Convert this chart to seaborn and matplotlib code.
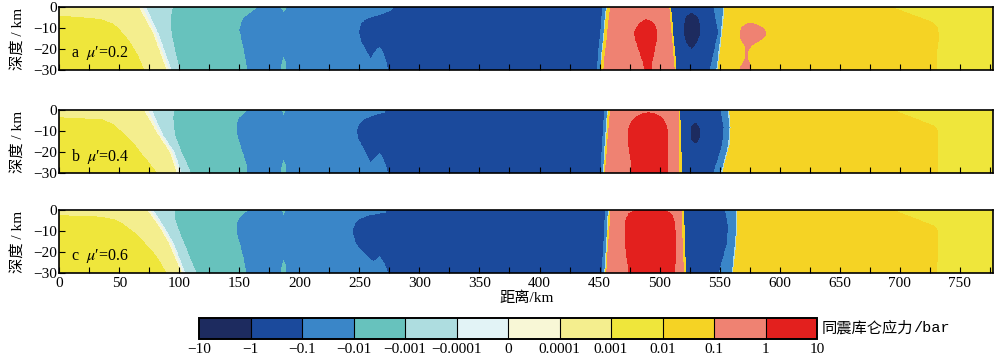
import numpy as np
import matplotlib
matplotlib.use("Agg")
import matplotlib.pyplot as plt
from matplotlib.colors import ListedColormap, BoundaryNorm
from matplotlib.cm import ScalarMappable
from matplotlib.ticker import MultipleLocator
import seaborn as sns

# colour bins of the coulomb stress scale (bar), low to high
BIN_EDGES = ["-10", "-1", "-0.1", "-0.01", "-0.001", "-0.0001", "0",
             "0.0001", "0.001", "0.01", "0.1", "1", "10"]
BIN_COLORS = ["#1d2b5f", "#1b4a9c", "#3a86c8", "#67c2bd", "#aedde0", "#e2f3f6",
              "#f8f7d6", "#f4ee8e", "#efe63b", "#f5d324", "#ef8272", "#e3201e"]

PANEL_LABELS = ["a  $\\mu$\u2032=0.2", "b  $\\mu$\u2032=0.4", "c  $\\mu$\u2032=0.6"]
X_MAX = 778

# each panel: bin index of every region from left to right, and the
# edges between them as (depth km, distance km) points
LEVELS_A = [8, 7, 6, 5, 4, 3, 2, 3, 2, 1, 2, 1, 2, 4, 9, 10, 11, 10, 9, 1, 0, 1, 2, 4, 9, 10, 9, 8]
EDGES_A = [
    [(0, -10), (4, -10), (6, 34), (8, 44), (10, 49), (12, 52), (16, 58), (20, 62.5), (24, 66.5), (28, 69.5), (30, 71)],
    [(0, 66), (12.5, 78), (30, 89.5)],
    [(0, 69), (12.5, 80), (30, 91.5)],
    [(0, 72), (12.5, 82.5), (30, 93.6)],
    [(0, 95), (5.6, 92.8), (12.5, 93.6), (20.5, 96.5), (30, 100.6)],
    [(0, 166), (2, 162), (4, 157), (6, 153), (11, 150), (17, 152.5), (24, 155), (30, 156.7)],
    [(0, 183), (2, 186), (3, 187), (24, 187), (26, 185.5), (28, 185), (30, 184.5)],
    [(0, 191), (2, 188), (3, 187), (24, 187), (26, 188.5), (28, 189), (30, 189.5)],
    [(0, 279), (2, 277), (4, 268), (6, 256), (8, 252), (10, 250.5), (12, 250), (14, 250.5), (16, 251.5),
     (18, 253), (20, 255), (22, 257), (24, 259), (26, 262), (28, 263), (30, 264)],
    [(0, 267), (19, 267), (20.5, 264), (22.5, 261.5), (25, 259), (26, 258), (30, 258)],
    [(0, 267), (19, 267), (20.5, 269), (22.5, 270.5), (25, 272), (27, 273), (30, 274)],
    [(0, 452.8), (30, 447.8)],
    [(0, 455.6), (30, 450.6)],
    [(0, 456.3), (30, 451.2)],
    [(0, 459), (30, 453.3)],
    [(0, 489), (6, 489), (7, 486), (8, 483.5), (10, 481), (12.5, 479), (16, 480), (20, 482.5), (26, 486), (30, 488)],
    [(0, 489), (6, 489), (7, 493), (8, 495.5), (10, 497.5), (12.5, 498.5), (16, 498), (20, 496.5), (26, 494.5), (30, 494)],
    [(0, 508.3), (30, 513)],
    [(0, 509.8), (30, 514.5)],
    [(0, 527), (3, 527), (4.5, 523), (6, 521.5), (10, 520.5), (14, 521), (17, 522.5), (19, 525), (20, 527), (30, 527)],
    [(0, 527), (3, 527), (4.5, 531), (6, 533), (10, 534), (14, 533.5), (17, 531.5), (19, 529), (20, 527), (30, 527)],
    [(0, 545), (12.5, 549), (30, 542)],
    [(0, 553.5), (12.5, 551.5), (30, 547.5)],
    [(0, 554.5), (12.5, 552.5), (30, 548.5)],
    [(0, 576), (7.8, 576), (8.5, 571.5), (10, 568.5), (12, 567), (14, 567), (16, 568), (17.5, 570), (19, 571),
     (21, 571.5), (23.5, 572), (26, 570), (28, 568), (30, 566.5)],
    [(0, 576), (7.8, 576), (8.5, 581), (10, 586.5), (12, 589), (14, 588.5), (16, 585), (17.5, 580), (19, 576.5),
     (21, 574.5), (23.5, 573.5), (26, 575), (28, 576), (30, 576)],
    [(0, 692), (7.5, 728), (10, 732), (14, 733.5), (20, 732), (30, 731.5)],
]

LEVELS_B = [8, 7, 6, 5, 4, 3, 2, 3, 2, 1, 2, 1, 2, 4, 9, 10, 11, 10, 9, 1, 0, 1, 2, 4, 9, 8]
EDGES_B = [
    [(0, -10), (3.5, -10), (4.8, 36), (7, 45), (10, 51), (12, 55), (16, 62), (20, 67.5), (24, 73.5), (28, 79), (30, 81.5)],
    [(0, 70), (12, 82.5), (20, 92), (30, 98)],
    [(0, 73.5), (12, 84.5), (20, 94), (30, 100)],
    [(0, 77), (12, 86.5), (20, 96), (30, 102)],
    [(0, 96.4), (3.7, 95), (12, 96.4), (20, 102), (30, 110)],
    [(0, 158), (2, 154), (4, 150), (6, 148.5), (9, 148), (12, 148.5), (17, 151), (22, 154), (26, 156), (30, 157)],
    [(0, 184), (2, 186.5), (3, 187), (23.8, 187), (26, 185.5), (28, 185), (30, 184.5)],
    [(0, 189.5), (2, 187.5), (3, 187), (23.8, 187), (26, 188.5), (28, 189), (30, 189.5)],
    [(0, 273), (1.6, 271), (3, 262), (4.8, 254), (7, 250), (10.3, 248), (14, 249.5), (16.7, 252), (20, 255),
     (24.6, 259), (27, 261), (30, 262)],
    [(0, 267), (20.6, 267), (22, 264.5), (24, 261), (25.5, 258), (30, 258)],
    [(0, 267), (20.6, 267), (22, 269), (24, 270.5), (26, 272), (28, 273), (30, 274)],
    [(0, 454), (30, 451)],
    [(0, 456.5), (30, 453)],
    [(0, 457.3), (30, 453.8)],
    [(0, 459), (30, 454.7)],
    [(0, 491), (1.5, 491), (2, 486), (3, 482), (4, 479.5), (6, 476.5), (8, 475), (10, 474), (14, 473.5), (20, 475), (26, 476.5), (30, 477)],
    [(0, 491), (1.5, 491), (2, 496), (3, 500), (4, 503), (6, 505), (8, 506.5), (10, 507.3), (14, 507.6), (20, 507.6), (26, 507.5), (30, 507.5)],
    [(0, 516), (30, 517)],
    [(0, 517.5), (30, 519)],
    [(0, 530), (6.3, 530), (7.5, 527.5), (9, 526.3), (11.3, 526), (13.5, 526.3), (15, 527.5), (16.3, 530), (30, 530)],
    [(0, 530), (6.3, 530), (7.5, 532.5), (9, 533.7), (11.3, 534), (13.5, 533.7), (15, 532.5), (16.3, 530), (30, 530)],
    [(0, 551), (8.7, 553.5), (16.7, 552.5), (30, 545)],
    [(0, 557), (8.7, 558.5), (16.7, 557.5), (30, 551.5)],
    [(0, 558), (8.7, 559.5), (16.7, 558.5), (30, 552.5)],
    [(0, 693.7), (7.9, 729.7), (10, 732), (16.7, 732.5), (30, 732.5)],
]

LEVELS_C = [8, 7, 6, 5, 4, 3, 2, 3, 2, 1, 2, 1, 2, 4, 9, 10, 11, 10, 9, 1, 2, 4, 9, 8]
EDGES_C = [
    [(0, -10), (2.6, -10), (3.6, 36), (5, 47), (7, 53.5), (8.7, 57.6), (12, 65), (16.7, 72.8), (20, 78), (24.6, 84), (30, 89.5)],
    [(0, 72.8), (8.7, 84), (16.7, 92), (30, 102)],
    [(0, 75.4), (8.7, 86), (16.7, 94), (30, 103.5)],
    [(0, 78), (8.7, 88), (16.7, 96), (30, 105)],
    [(0, 97), (4, 96.5), (8.7, 99), (16.7, 104.7), (24, 110), (30, 114.5)],
    [(0, 159), (2, 154), (4, 150.5), (6, 148.5), (8.7, 147.8), (12, 148.5), (16.7, 151), (24, 154), (30, 156)],
    [(0, 184), (2, 186.5), (3, 187), (23.8, 187), (26, 185.5), (28, 185), (30, 184.5)],
    [(0, 189.5), (2, 187.5), (3, 187), (23.8, 187), (26, 188.5), (28, 189), (30, 189.5)],
    [(0, 274), (1.6, 272), (3, 258), (4.8, 250), (7, 246.5), (10.3, 244.5), (13, 245.5), (16.7, 248), (20, 253),
     (24.6, 262), (26, 264), (30, 265)],
    [(0, 267), (22.2, 267), (23.5, 264), (24.6, 262), (26, 261), (30, 261)],
    [(0, 267), (22.2, 267), (24, 269.5), (26, 271.5), (28, 273), (30, 274)],
    [(0, 455), (30, 452)],
    [(0, 457.3), (30, 454.3)],
    [(0, 458), (30, 455)],
    [(0, 459.5), (30, 455.8)],
    [(0, 492), (0.3, 483), (0.8, 478), (2, 474.5), (4, 472.5), (6, 471.5), (10, 471), (16, 471.5), (22, 472.5), (26, 473.5), (30, 474)],
    [(0, 492), (0.3, 501), (0.8, 506.5), (2, 510), (4, 512), (6, 513), (10, 513.5), (16, 514), (22, 514), (26, 513.5), (30, 513)],
    [(0, 518.6), (30, 520.6)],
    [(0, 520.5), (30, 522.5)],
    [(0, 554.7), (8.7, 557.5), (16.7, 556), (30, 549.5)],
    [(0, 563.5), (8.7, 564), (16.7, 563), (30, 560.5)],
    [(0, 564.5), (8.7, 565), (16.7, 564), (30, 561.5)],
    [(0, 693.7), (7.9, 729.7), (10, 732), (16.7, 732.5), (30, 731.7)],
]

X_KM = np.arange(0, X_MAX + 0.001, 0.25)
DEPTH = np.linspace(0, 30, 301)


def build_field(levels, edges):
    # boundary positions at every depth row, kept in left-to-right order
    b = np.array([np.interp(DEPTH, [p[0] for p in e], [p[1] for p in e]) for e in edges])
    b = np.maximum.accumulate(b, axis=0)
    lv = np.array(levels)
    field = np.empty((len(DEPTH), len(X_KM)), dtype=int)
    for i in range(len(DEPTH)):
        field[i] = lv[np.searchsorted(b[:, i], X_KM)]
    return field


sns.set_theme(style="ticks")
plt.rcParams["font.family"] = ["Liberation Serif", "Noto Sans CJK SC"]
plt.rcParams["mathtext.fontset"] = "stix"
plt.rcParams["axes.unicode_minus"] = True

cmap = ListedColormap(sns.color_palette(BIN_COLORS))

fig = plt.figure(figsize=(10, 3.64), dpi=100)
panel_bottoms = [0.8077, 0.5239, 0.2492]
panels = [(LEVELS_A, EDGES_A), (LEVELS_B, EDGES_B), (LEVELS_C, EDGES_C)]

for k, (levels, edges) in enumerate(panels):
    ax = fig.add_axes([0.0593, panel_bottoms[k], 0.934, 0.1731])
    field = build_field(levels, edges)
    ax.imshow(field, cmap=cmap, vmin=-0.5, vmax=11.5, extent=(0, X_MAX, -30, 0),
              origin="upper", aspect="auto", interpolation="nearest")
    ax.set_xlim(0, X_MAX)
    ax.set_ylim(-30, 0)
    ax.set_yticks([0, -10, -20, -30])
    ax.xaxis.set_major_locator(MultipleLocator(50))
    ax.xaxis.set_minor_locator(MultipleLocator(25))
    ax.tick_params(axis="both", which="both", direction="in", length=4, width=0.8,
                   colors="black", labelsize=11, top=False, right=False)
    ax.tick_params(axis="y", pad=1.5)
    ax.tick_params(axis="x", pad=3)
    for s in ax.spines.values():
        s.set_color("black")
        s.set_linewidth(1.2)
    ax.set_ylabel("深度 / km", fontsize=11, labelpad=6, color="black")
    ax.text(10, -22, PANEL_LABELS[k], fontsize=11.5, va="center", ha="left", color="black")
    if k < 2:
        ax.tick_params(axis="x", labelbottom=False)
    else:
        ax.set_xlabel("距离/km", fontsize=11, labelpad=1, color="black")

cax = fig.add_axes([0.199, 0.0687, 0.618, 0.0577])
norm = BoundaryNorm(np.arange(13), 12)
sm = ScalarMappable(norm=norm, cmap=cmap)
cb = fig.colorbar(sm, cax=cax, orientation="horizontal", ticks=np.arange(13), drawedges=True)
cb.ax.set_xticklabels([t.replace("-", "\u2212") for t in BIN_EDGES])
cb.ax.tick_params(length=0, labelsize=11, pad=3, colors="black")
cb.outline.set_edgecolor("black")
cb.outline.set_linewidth(1.4)
cb.dividers.set_color("black")
cb.dividers.set_linewidth(0.8)
fig.text(0.822, 0.099, "同震库仑应力", fontsize=11, va="center", ha="left", color="black")
fig.text(0.9135, 0.099, "/bar", fontsize=11, va="center", ha="left", color="black",
         family=["Liberation Mono"])

fig.savefig("out.png", dpi=100)
